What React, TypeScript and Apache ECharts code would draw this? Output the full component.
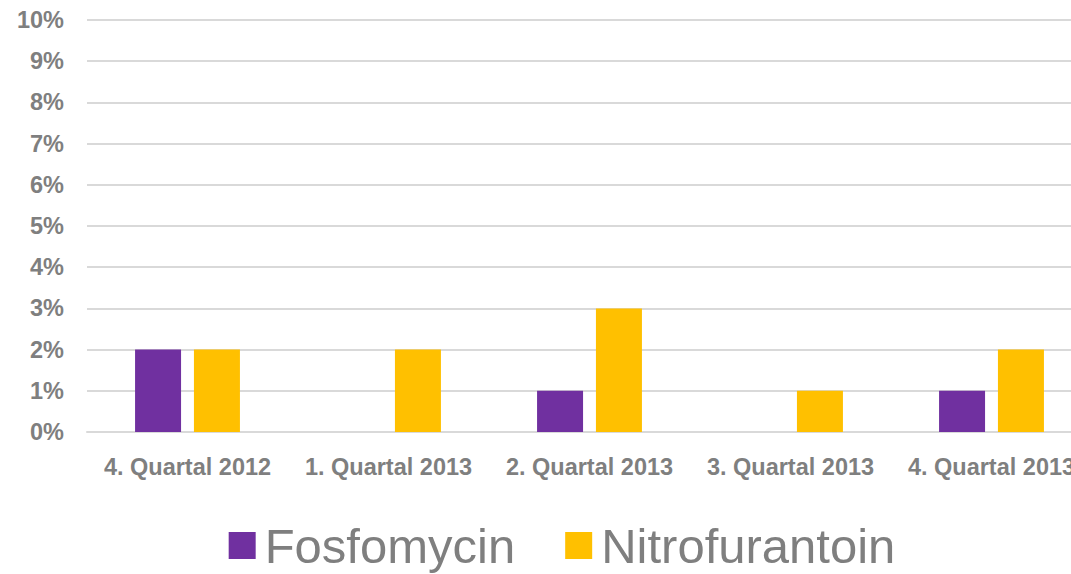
import React, { useEffect, useRef } from "react";
import * as echarts from "echarts";

const categories = ["4. Quartal 2012", "1. Quartal 2013", "2. Quartal 2013", "3. Quartal 2013", "4. Quartal 2013"];
const fosfomycin = [2, 0, 1, 0, 1];
const nitrofurantoin = [2, 2, 3, 1, 2];
const seriesNames = ["Fosfomycin", "Nitrofurantoin"];
const colors = ["#7030A0", "#FFC000"];

export default function App() {
  const ref = useRef<HTMLDivElement>(null);
  useEffect(() => {
    document.body.style.margin = "0";
    document.body.style.overflow = "hidden";
    const chart = echarts.init(ref.current!, null, { renderer: "svg" });
    const font = "'Liberation Sans', Arial, sans-serif";
    chart.setOption({
      animation: false,
      textStyle: { fontFamily: font },
      grid: { left: 87, right: 32, top: 20, bottom: 142 },
      legend: {
        data: seriesNames,
        top: 516,
        left: "center",
        itemWidth: 27,
        itemHeight: 27,
        itemGap: 50,
        icon: "rect",
        textStyle: { fontSize: 49, color: "#7f7f7f", fontFamily: font, padding: [0, 0, 0, 4] },
      },
      xAxis: {
        type: "category",
        data: categories,
        axisLine: { show: true, lineStyle: { color: "#d9d9d9", width: 2 } },
        axisTick: { show: false },
        axisLabel: { fontSize: 23.5, fontWeight: "bold", color: "#7f7f7f", margin: 23, fontFamily: font, interval: 0 },
      },
      yAxis: {
        type: "value",
        min: 0,
        max: 10,
        interval: 1,
        axisLabel: { formatter: "{value}%", fontSize: 23.5, fontWeight: "bold", color: "#7f7f7f", margin: 23, fontFamily: font },
        splitLine: { lineStyle: { color: "#d9d9d9", width: 2 } },
        axisLine: { show: false },
        axisTick: { show: false },
      },
      series: [
        { name: seriesNames[0], type: "bar", data: fosfomycin, itemStyle: { color: colors[0] }, barWidth: 46, barGap: "28%" },
        { name: seriesNames[1], type: "bar", data: nitrofurantoin, itemStyle: { color: colors[1] }, barWidth: 46, barGap: "28%" },
      ],
    });
    return () => chart.dispose();
  }, []);
  return (
    <div style={{ position: "fixed", left: 0, top: 0, width: 1071, height: 574, overflow: "hidden", background: "#fff" }}>
      <div ref={ref} style={{ width: 1124, height: 574 }} />
    </div>
  );
}
